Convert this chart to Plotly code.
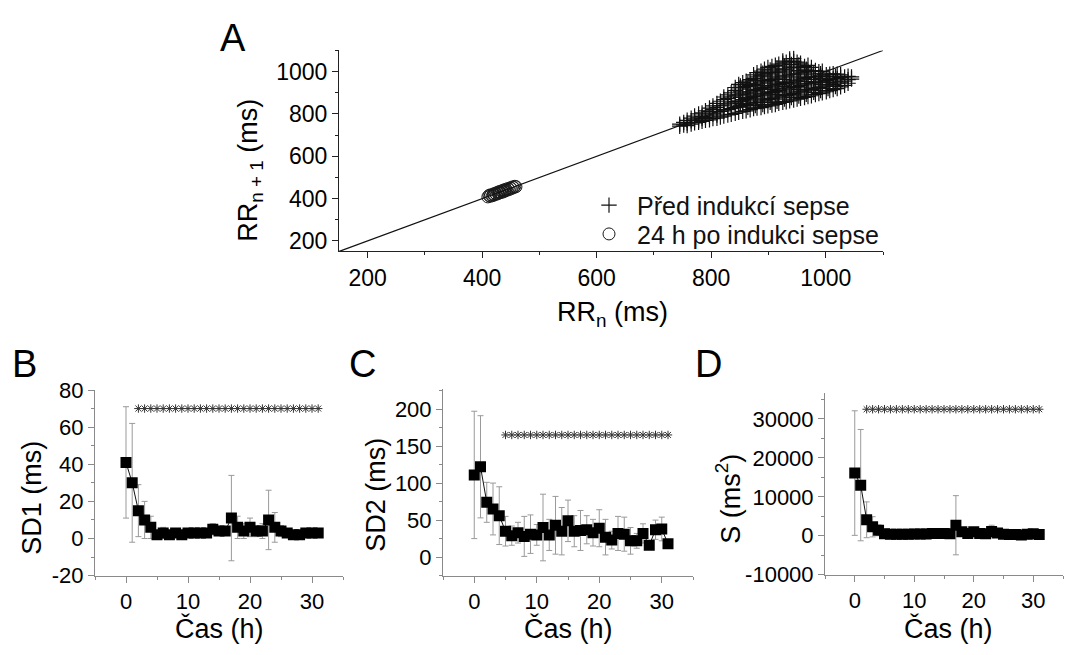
import plotly.graph_objects as go

W, H = 1067, 655
FONT = "Liberation Sans, Arial, sans-serif"

# ---------------- Panel A data ----------------
identity_line = [150, 1100]

before_x = [745, 745, 752, 752, 758, 758, 758, 765, 765, 765, 771, 771, 771,
            778, 778, 778, 778, 784, 784, 784, 784, 790, 790, 790, 790,
            797, 797, 797, 797, 803, 803, 803, 803, 810, 810, 810, 810, 810,
            816, 816, 816, 816, 822, 822, 822, 822, 822, 829, 829, 829, 829, 829,
            835, 835, 835, 835, 835, 842, 842, 842, 842, 842, 842,
            848, 848, 848, 848, 848, 848, 855, 855, 855, 855, 855, 855,
            861, 861, 861, 861, 861, 861, 868, 868, 868, 868, 868, 868,
            874, 874, 874, 874, 874, 874, 874, 880, 880, 880, 880, 880, 880, 880,
            887, 887, 887, 887, 887, 887, 887, 893, 893, 893, 893, 893, 893, 893,
            899, 899, 899, 899, 899, 899, 899, 906, 906, 906, 906, 906, 906, 906,
            912, 912, 912, 912, 912, 912, 912, 918, 918, 918, 918, 918, 918, 918,
            925, 925, 925, 925, 925, 925, 925, 925, 931, 931, 931, 931, 931, 931, 931,
            937, 937, 937, 937, 937, 937, 937, 937, 944, 944, 944, 944, 944, 944, 944, 944,
            950, 950, 950, 950, 950, 950, 950, 956, 956, 956, 956, 956, 956, 956,
            963, 963, 963, 963, 963, 963, 969, 969, 969, 969, 969, 969,
            975, 975, 975, 975, 975, 975, 982, 982, 982, 982, 982,
            988, 988, 988, 988, 988, 994, 994, 994, 994, 994,
            1001, 1001, 1001, 1001, 1007, 1007, 1007, 1007, 1013, 1013, 1013, 1013,
            1020, 1020, 1020, 1020, 1026, 1026, 1026, 1026, 1033, 1033, 1033,
            1039, 1039, 1039, 1045, 1045,
            851, 851, 851, 851, 864, 864, 864, 864, 864, 877, 877, 877, 877, 877,
            890, 890, 890, 890, 890, 890, 903, 903, 903, 903, 903, 903,
            915, 915, 915, 915, 915, 915, 928, 928, 928, 928, 928, 928,
            940, 940, 940, 940, 940, 940, 953, 953, 953, 953, 953, 953,
            966, 966, 966, 966, 966, 979, 979, 979, 979, 991, 991, 991, 991,
            1004, 1004, 1004, 1017, 1017, 1017]
before_y = [742, 752, 748, 760, 745, 770, 757, 752, 768, 780, 758, 775, 790,
            760, 782, 800, 770, 765, 788, 805, 778, 770, 795, 815, 783,
            772, 790, 812, 828, 778, 800, 822, 838, 780, 805, 830, 850, 795,
            785, 812, 838, 860, 790, 815, 842, 868, 880, 795, 820, 848, 872, 890,
            798, 825, 852, 880, 900, 803, 830, 858, 885, 910, 925,
            808, 835, 862, 890, 918, 940, 812, 840, 868, 895, 925, 948,
            815, 845, 872, 900, 930, 955, 820, 848, 878, 905, 935, 962,
            825, 852, 882, 910, 940, 968, 985, 828, 855, 886, 915, 945, 975, 995,
            830, 860, 890, 920, 950, 980, 1002, 835, 865, 895, 925, 955, 985, 1012,
            838, 868, 898, 928, 958, 990, 1020, 842, 872, 902, 932, 962, 995, 1025,
            845, 876, 906, 936, 966, 998, 1030, 850, 880, 910, 940, 970, 1002, 1035,
            855, 884, 914, 944, 975, 1008, 1040, 1050, 858, 888, 918, 948, 980, 1012, 1045,
            862, 892, 922, 952, 985, 1018, 1050, 1060, 866, 896, 926, 956, 988, 1020, 1048, 1062,
            870, 900, 930, 960, 990, 1022, 1045, 874, 904, 934, 964, 994, 1020, 1040,
            878, 908, 938, 968, 998, 1025, 882, 912, 942, 972, 1000, 1030,
            886, 915, 945, 975, 1002, 1020, 892, 920, 948, 975, 1005,
            896, 925, 952, 978, 1000, 900, 928, 955, 980, 1002,
            905, 932, 958, 985, 910, 936, 962, 988, 915, 940, 965, 990,
            920, 945, 968, 988, 928, 950, 972, 985, 935, 955, 975,
            945, 962, 978, 965, 975,
            850, 878, 905, 932, 832, 862, 890, 918, 945, 840, 870, 898, 928, 958,
            845, 875, 905, 935, 965, 993, 855, 885, 915, 945, 975, 1008,
            860, 892, 922, 952, 984, 1016, 870, 900, 930, 962, 994, 1026,
            878, 908, 938, 970, 1002, 1034, 885, 915, 945, 975, 1006, 1032,
            893, 923, 953, 985, 1012, 902, 932, 962, 990, 910, 940, 968, 990,
            920, 948, 975, 930, 955, 978]

after_x = [410, 412, 414, 415, 418, 420, 421, 423, 425, 427, 428, 430, 432, 434, 436,
           437, 439, 441, 443, 445, 447, 449, 451, 453, 455, 457, 459, 420, 430, 440]
after_y = [408, 415, 411, 418, 414, 422, 417, 425, 421, 430, 424, 433, 428, 436, 431,
           440, 435, 444, 439, 447, 443, 451, 447, 455, 452, 458, 456, 418, 428, 438]

# ---------------- Panels B-D data ----------------
hours = list(range(32))

sd1 = [41, 30, 15, 10, 6, 2, 3, 2, 3, 2, 3, 3, 3, 3, 5, 4,
       4, 11, 6, 4, 6, 4, 4, 10, 6, 4, 3, 2, 2, 3, 3, 3]
sd1_err = [30, 32, 14, 10, 6, 2, 3, 2, 2, 2, 2, 2, 2, 2, 3, 2,
           2, 23, 6, 4, 5, 3, 4, 16, 8, 3, 2, 2, 2, 2, 2, 2]
sd1_stars = list(range(2, 32))

sd2 = [111, 122, 74, 65, 56, 35, 29, 33, 28, 31, 30, 40, 30, 43, 35, 49,
       35, 36, 37, 33, 39, 27, 23, 32, 31, 22, 22, 32, 16, 37, 38, 18]
sd2_err = [86, 69, 27, 35, 39, 20, 13, 14, 27, 26, 14, 45, 21, 39, 32, 28,
           21, 27, 19, 18, 25, 24, 12, 23, 23, 18, 10, 13, 3, 13, 16, 3]
sd2_stars = list(range(5, 32))

s_area = [16100, 13000, 4100, 2300, 1400, 500, 400, 400, 400, 400, 450, 450, 450, 600, 600, 600,
          500, 2700, 1000, 600, 1000, 600, 500, 1100, 700, 400, 300, 300, 200, 400, 500, 300]
s_err = [16000, 14300, 4600, 2600, 1400, 300, 300, 300, 300, 300, 300, 300, 300, 300, 300, 300,
         300, 7600, 800, 400, 500, 300, 300, 1600, 500, 300, 300, 300, 300, 300, 300, 300]
s_stars = list(range(2, 32))

# tick labels
b_ticks = [-20, 0, 20, 40, 60, 80]
c_ticks = [0, 50, 100, 150, 200]
d_ticks = [-10000, 0, 10000, 20000, 30000]
time_ticks = [0, 10, 20, 30]


def px_x(p):
    return p / W


def px_y(p):
    return 1 - p / H


fig = go.Figure()

# Panel A
fig.add_trace(go.Scatter(
    x=before_x, y=before_y, mode="markers", name="Před indukcí sepse", legend="legend",
    marker=dict(symbol="cross-thin-open", size=11, color="#111",
                line=dict(color="#111", width=1.2)),
    xaxis="x", yaxis="y"))
fig.add_trace(go.Scatter(
    x=after_x, y=after_y, mode="markers", name="24 h po indukci sepse", legend="legend2",
    marker=dict(symbol="circle-open", size=12, color="#1a1a1a",
                line=dict(color="#1a1a1a", width=1)),
    xaxis="x", yaxis="y"))
fig.add_trace(go.Scatter(
    x=identity_line, y=identity_line, mode="lines", showlegend=False,
    line=dict(color="#111", width=1.2), xaxis="x", yaxis="y"))


def add_panel(vals, errs, stars, star_y, xa, ya):
    fig.add_trace(go.Scatter(
        x=hours, y=vals, mode="lines+markers", showlegend=False,
        line=dict(color="#111", width=1),
        marker=dict(symbol="square", size=11, color="#000"),
        error_y=dict(type="data", array=errs, visible=True, color="#9a9a9a", thickness=1, width=3),
        xaxis=xa, yaxis=ya))
    fig.add_trace(go.Scatter(
        x=stars, y=[star_y] * len(stars), mode="markers", showlegend=False,
        marker=dict(symbol="asterisk-open", size=7, color="#333", line=dict(color="#333", width=1)),
        xaxis=xa, yaxis=ya))


add_panel(sd1, sd1_err, sd1_stars, 70, "x2", "y2")
add_panel(sd2, sd2_err, sd2_stars, 165, "x3", "y3")
add_panel(s_area, s_err, s_stars, 32500, "x4", "y4")

tickfont = dict(family=FONT, size=22, color="#000")


def axis(domain, rng, color, **kw):
    d = dict(domain=domain, range=rng, showline=True, linecolor=color, linewidth=1,
             ticks="outside", ticklen=6, tickwidth=1, tickcolor=color,
             showgrid=False, zeroline=False, tickfont=tickfont)
    d.update(kw)
    return d


A_COL = "#222"
P_COL = "#8a8a8a"

legend_common = dict(xanchor="left", yanchor="middle",
                     font=dict(family=FONT, size=25, color="#111"), itemwidth=46,
                     bgcolor="rgba(0,0,0,0)", tracegroupgap=0)

fig.update_layout(
    width=W, height=H, margin=dict(l=0, r=0, t=0, b=0),
    paper_bgcolor="white", plot_bgcolor="white",
    font=dict(family=FONT, color="#000"),
    xaxis=axis([px_x(339), px_x(883)], [150, 1100], A_COL, dtick=200, tick0=0,
               tickfont=dict(family=FONT, size=23, color="#000"), anchor="y",
               minor=dict(dtick=100, tick0=0, ticks="outside", ticklen=3, tickcolor=A_COL)),
    yaxis=axis([px_y(249), px_y(40)], [150, 1100], A_COL, dtick=200, tick0=0,
               tickfont=dict(family=FONT, size=23, color="#000"), anchor="x",
               minor=dict(dtick=100, tick0=0, ticks="outside", ticklen=3, tickcolor=A_COL)),
    xaxis2=axis([px_x(95), px_x(343)], [-5, 35], P_COL, tickmode="array", tickvals=time_ticks,
                ticktext=[str(t) for t in time_ticks], anchor="y2",
                minor=dict(dtick=5, tick0=0, ticks="outside", ticklen=3, tickcolor=P_COL)),
    yaxis2=axis([px_y(586), px_y(393)], [-20, 80], P_COL, tickmode="array", tickvals=b_ticks,
                ticktext=[str(t) for t in b_ticks], anchor="x2",
                minor=dict(dtick=10, tick0=0, ticks="outside", ticklen=3, tickcolor=P_COL)),
    xaxis3=axis([px_x(443), px_x(693)], [-5, 35], P_COL, tickmode="array", tickvals=time_ticks,
                ticktext=[str(t) for t in time_ticks], anchor="y3",
                minor=dict(dtick=5, tick0=0, ticks="outside", ticklen=3, tickcolor=P_COL)),
    yaxis3=axis([px_y(586), px_y(392)], [-25, 227], P_COL, tickmode="array", tickvals=c_ticks,
                ticktext=[str(t) for t in c_ticks], anchor="x3",
                minor=dict(dtick=25, tick0=0, ticks="outside", ticklen=3, tickcolor=P_COL)),
    xaxis4=axis([px_x(825), px_x(1063)], [-5, 35], P_COL, tickmode="array", tickvals=time_ticks,
                ticktext=[str(t) for t in time_ticks], anchor="y4",
                minor=dict(dtick=5, tick0=0, ticks="outside", ticklen=3, tickcolor=P_COL)),
    yaxis4=axis([px_y(585), px_y(396)], [-10000, 36700], P_COL, tickmode="array", tickvals=d_ticks,
                ticktext=[str(t) for t in d_ticks], anchor="x4",
                minor=dict(dtick=5000, tick0=0, ticks="outside", ticklen=3, tickcolor=P_COL)),
    legend=dict(x=px_x(581), y=px_y(201), **legend_common),
    legend2=dict(x=px_x(581), y=px_y(231), **legend_common),
)

ann = []


def label(text, x, y, size, angle=0):
    ann.append(dict(text=text, x=px_x(x), y=px_y(y), xref="paper", yref="paper",
                    xanchor="center", yanchor="middle", showarrow=False, textangle=angle,
                    font=dict(family=FONT, size=size, color="#000")))


# panel letters
label("A", 233, 27, 38)
label("B", 24, 366, 38)
label("C", 362, 366, 38)
label("D", 708, 366, 38)
# axis titles
label("RR<sub>n</sub> (ms)", 612, 314, 27)
label("RR<sub>n + 1</sub> (ms)", 250, 165, 27, -90)
label("SD1 (ms)", 32, 505, 27, -90)
label("SD2 (ms)", 376, 502, 27, -90)
label("S (ms<sup>2</sup>)", 728, 506, 27, -90)
label("Čas (h)", 219, 641, 27)
label("Čas (h)", 568, 641, 27)
label("Čas (h)", 948, 641, 27)

fig.update_layout(annotations=ann)

fig.write_html("out.html")
